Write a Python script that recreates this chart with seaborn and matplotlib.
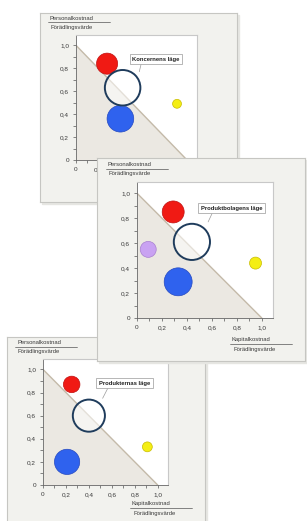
import matplotlib.pyplot as plt
import matplotlib.patches as mpatches
import numpy as np
import pandas as pd
import seaborn as sns

# three views: group, product companies, products
TITLES = ["Koncernens läge", "Produktbolagens läge", "Produkternas läge"]
Y_LABEL = ("Personalkostnad", "Förädlingsvärde")
X_LABEL = ("Kapitalkostnad", "Förädlingsvärde")

# bubble data per panel: x = capital cost / value added, y = personnel cost / value added,
# r = bubble radius in data units
KONCERN_X = [0.28, 0.40, 0.91, 0.42]
KONCERN_Y = [0.84, 0.36, 0.49, 0.63]
KONCERN_R = [0.095, 0.12, 0.04, 0.16]
KONCERN_KIND = ["red", "blue", "yellow", "ring"]

BOLAG_X = [0.29, 0.33, 0.95, 0.09, 0.44]
BOLAG_Y = [0.85, 0.29, 0.44, 0.55, 0.61]
BOLAG_R = [0.088, 0.112, 0.048, 0.064, 0.145]
BOLAG_KIND = ["red", "blue", "yellow", "purple", "ring"]

PRODUKT_X = [0.25, 0.21, 0.91, 0.40]
PRODUKT_Y = [0.87, 0.20, 0.33, 0.60]
PRODUKT_R = [0.072, 0.11, 0.043, 0.14]
PRODUKT_KIND = ["red", "blue", "yellow", "ring"]

BREAK_EVEN = 1.0  # x + y = 1 line

COLORS = {
    "red": "#f01a14",
    "blue": "#2f62ee",
    "yellow": "#f4ee14",
    "purple": "#c9a2f2",
}
EDGES = {
    "red": "#c01010",
    "blue": "#2448c0",
    "yellow": "#c8bc00",
    "purple": "#a880d0",
}
RING = "#1f3c5c"
CARD = "#f2f2ee"
CARD_EDGE = "#c6c6c2"
TRI = "#ebe8e2"
DIAG = "#c4baa9"
TXT = "#3a3a3a"

W, H, DPI = 307, 521, 100

sns.set_style("ticks")
plt.rcParams["font.family"] = ["Liberation Sans", "DejaVu Sans"]


def fig_rect(x0, y0, x1, y1):
    return [x0 / W, 1 - y1 / H, (x1 - x0) / W, (y1 - y0) / H]


def fmt(v, _):
    if abs(v) < 1e-9:
        return "0"
    return f"{v:.1f}".replace(".", ",")


def fraction(ax, x, y, top, bottom, line_len):
    ax.text(x + 1, y, top, fontsize=4.2, color=TXT, ha="left", va="center")
    ax.plot([x - 1, x - 1 + line_len], [y + 4, y + 4], color="#555555", lw=0.5)
    ax.text(x + 2, y + 9, bottom, fontsize=4.2, color=TXT, ha="left", va="center")


def panel(fig, card_box, plot_box, xs, ys, rs, kinds, title, callout, z,
          ylab_pos, xlab_pos):
    # gray card with a soft shadow
    cx0, cy0, cx1, cy1 = card_box
    fig.add_artist(mpatches.Rectangle(
        ((cx0 + 2) / W, 1 - (cy1 + 2) / H), (cx1 - cx0) / W, (cy1 - cy0) / H,
        transform=fig.transFigure, color="#e6e6e2", zorder=z - 0.5))
    card = fig.add_axes(fig_rect(*card_box), zorder=z)
    card.set_facecolor(CARD)
    card.set_xlim(cx0, cx1)
    card.set_ylim(cy1, cy0)
    card.set_xticks([])
    card.set_yticks([])
    for s in card.spines.values():
        s.set_color(CARD_EDGE)
        s.set_linewidth(0.8)
    fraction(card, *ylab_pos, *Y_LABEL, 62)
    fraction(card, *xlab_pos, *X_LABEL, 62)

    # plot area
    px0, py0, px1, py1 = plot_box
    ax = fig.add_axes(fig_rect(px0, py0, px1, py1), zorder=z + 1)
    ax.set_facecolor("white")
    ax.set_xlim(0, 1.09)
    ax.set_ylim(0, 1.09)
    scale = (px1 - px0) / 1.09  # pixels per data unit

    ax.fill_between([0, BREAK_EVEN], [BREAK_EVEN, 0], 0, color=TRI, lw=0, zorder=1)
    ax.plot([0, BREAK_EVEN], [BREAK_EVEN, 0], color=DIAG, lw=1.0, zorder=2)

    df = pd.DataFrame({"x": xs, "y": ys, "r": rs, "kind": kinds})
    df["s"] = (2 * df["r"] * scale * 72 / DPI) ** 2
    filled = df[df["kind"] != "ring"]
    ring = df[df["kind"] == "ring"]

    sns.scatterplot(data=filled, x="x", y="y", hue="kind", palette=COLORS,
                    s=filled["s"].values, edgecolor=[EDGES[k] for k in filled["kind"]],
                    linewidth=0.5, legend=False, ax=ax, zorder=3)
    sns.scatterplot(data=ring, x="x", y="y", s=ring["s"].values, color="white",
                    alpha=0.55, linewidth=0, legend=False, ax=ax, zorder=4)
    sns.scatterplot(data=ring, x="x", y="y", s=ring["s"].values, facecolor="none",
                    edgecolor=RING, linewidth=1.4, legend=False, ax=ax, zorder=5)

    (tx, ty), (bx, by) = callout
    ax.annotate(title, xy=(tx, ty), xytext=(bx, by), ha="center", va="center",
                fontsize=4.2, fontweight="bold", color="#222222", zorder=6,
                bbox=dict(boxstyle="square,pad=0.45", fc="white", ec="#9a9a9a", lw=0.5),
                arrowprops=dict(arrowstyle="-", color="#9a9a9a", lw=0.5,
                                shrinkA=0, shrinkB=0, relpos=(0.2, 0.0)))

    ax.set_xticks(np.arange(0, 1.01, 0.2))
    ax.set_yticks(np.arange(0, 1.01, 0.2))
    ax.set_xticks(np.arange(0.1, 1.0, 0.2), minor=True)
    ax.set_yticks(np.arange(0.1, 1.0, 0.2), minor=True)
    ax.xaxis.set_major_formatter(plt.FuncFormatter(fmt))
    ax.yaxis.set_major_formatter(plt.FuncFormatter(fmt))
    ax.tick_params(which="both", direction="out", length=2.5, width=0.5,
                   color="#555555", labelsize=4.6, labelcolor=TXT, pad=2.5)
    ax.tick_params(which="minor", length=2)
    ax.set_xlabel("")
    ax.set_ylabel("")
    for side in ["left", "bottom"]:
        ax.spines[side].set_color("#666666")
        ax.spines[side].set_linewidth(0.6)
    for side in ["top", "right"]:
        ax.spines[side].set_color("#c8c8c8")
        ax.spines[side].set_linewidth(0.8)
    return ax


fig = plt.figure(figsize=(W / DPI, H / DPI), dpi=DPI)
fig.patch.set_facecolor("white")

# bottom panel (products)
panel(fig, (7, 337, 205, 526), (43, 359, 168, 485),
      PRODUKT_X, PRODUKT_Y, PRODUKT_R, PRODUKT_KIND, TITLES[2],
      ((0.52, 0.75), (0.71, 0.88)), 1,
      (16, 343), (131, 504))

# top panel (group)
panel(fig, (40, 13, 237, 202), (76, 35, 197, 160),
      KONCERN_X, KONCERN_Y, KONCERN_R, KONCERN_KIND, TITLES[0],
      ((0.57, 0.77), (0.72, 0.88)), 3,
      (49, 18), (165, 182))

# middle panel (product companies)
panel(fig, (97, 158, 305, 361), (137, 182, 273, 318),
      BOLAG_X, BOLAG_Y, BOLAG_R, BOLAG_KIND, TITLES[1],
      ((0.57, 0.77), (0.76, 0.88)), 5,
      (107, 165), (231, 340))

fig.savefig("out.png", dpi=DPI)
